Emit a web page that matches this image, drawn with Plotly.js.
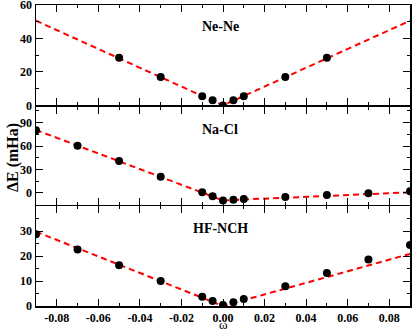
<!DOCTYPE html>
<html>
<head>
<meta charset="utf-8">
<script src="https://cdn.plot.ly/plotly-3.0.1.min.js"></script>
<style>
  html, body { margin: 0; padding: 0; background: #fff; }
  #chart { width: 415px; height: 333px; }
</style>
</head>
<body>
<div id="chart"></div>
<script>
// ── datos ─────────────────────────────────────────────────────────────────
const omegaNe  = [-0.05, -0.03, -0.01, -0.005, 0.0, 0.005, 0.01, 0.03, 0.05];
const dENe     = [28.4, 16.9, 5.5, 3.0, 0.0, 3.0, 5.5, 17.0, 28.4];

const omega    = [-0.09, -0.07, -0.05, -0.03, -0.01, -0.005, 0.0, 0.005, 0.01, 0.03, 0.05, 0.07, 0.09];
const dENaCl   = [80.1, 60.4, 40.7, 20.6, 0.8, -4.1, -9.5, -8.6, -7.8, -5.3, -2.5, -0.4, 2.1];
const dEHF     = [28.8, 22.6, 16.3, 10.0, 3.7, 2.0, 0.4, 1.5, 2.8, 7.9, 13.2, 18.6, 24.5];

// rectas de ajuste (rama izquierda / derecha)
const fitX     = [-0.09, 0.0, 0.09];
const fitNe    = [50.6, 0.0, 50.6];
const fitNaCl  = [80.5, -9.5, 0.8];
const fitHF    = [29.8, 0.0, 20.9];

const xTicks   = [-0.08, -0.06, -0.04, -0.02, 0.0, 0.02, 0.04, 0.06, 0.08];
const xLabels  = ['-0.08', '-0.06', '-0.04', '-0.02', '0.00', '0.02', '0.04', '0.06', '0.08'];

const panelNames = ['Ne-Ne', 'Na-Cl', 'HF-NCH'];

// ── estilo ────────────────────────────────────────────────────────────────
const FONT = 'Liberation Serif, Times New Roman, serif';
const lineStyle   = { color: '#ff0000', width: 2, dash: '6px,4px' };
const markerStyle = { color: '#000000', size: 8 };

const pts = (x, y, ax) => ({
    type: 'scatter', mode: 'markers', x, y,
    xaxis: ax.x, yaxis: ax.y,
    marker: markerStyle, hoverinfo: 'x+y',
});
const fit = (x, y, ax) => ({
    type: 'scatter', mode: 'lines', x, y,
    xaxis: ax.x, yaxis: ax.y,
    line: lineStyle, hoverinfo: 'skip',
});

const A1 = { x: 'x3', y: 'y3' };   // arriba
const A2 = { x: 'x2', y: 'y2' };   // medio
const A3 = { x: 'x',  y: 'y'  };   // abajo

const traces = [
    fit(fitX, fitNe, A1),   pts(omegaNe, dENe, A1),
    fit(fitX, fitNaCl, A2), pts(omega, dENaCl, A2),
    fit(fitX, fitHF, A3),   pts(omega, dEHF, A3),
];

const tickFont = { family: FONT, size: 12, color: '#000', weight: 'bold' };

const xBase = (anchor, labels) => ({
    anchor, range: [-0.09, 0.09],
    tickmode: 'array', tickvals: xTicks, ticktext: xLabels,
    showticklabels: labels,
    ticks: 'inside', ticklen: 7, tickwidth: 1, tickcolor: '#000',
    minor: { dtick: 0.01, tick0: 0, ticks: 'inside', ticklen: 3, tickwidth: 1, tickcolor: '#000' },
    showline: true, linecolor: '#000', linewidth: 1.5, mirror: 'ticks',
    showgrid: false, zeroline: false,
    tickfont: tickFont, fixedrange: true,
});

const yBase = (anchor, domain, range, minor, tickvals) => ({
    anchor, domain, range,
    tickmode: 'array', tickvals,
    ticks: 'inside', ticklen: 7, tickwidth: 1, tickcolor: '#000',
    minor: { dtick: minor, tick0: 0, ticks: 'inside', ticklen: 3, tickwidth: 1, tickcolor: '#000' },
    showline: true, linecolor: '#000', linewidth: 1.5, mirror: 'ticks',
    showgrid: false, zeroline: false,
    ticklabeloverflow: 'allow',
    tickfont: tickFont, fixedrange: true,
});

const labelAnn = (text, y) => ({
    xref: 'paper', yref: 'paper', x: 0.493, y, text,
    showarrow: false, xanchor: 'center', yanchor: 'middle',
    font: { family: FONT, size: 14, color: '#000', weight: 'bold' },
});

const layout = {
    width: 415, height: 333,
    margin: { t: 5, r: 5, b: 27, l: 36 },
    paper_bgcolor: '#fff', plot_bgcolor: '#fff',
    showlegend: false,
    xaxis:  xBase('y', true),
    xaxis2: xBase('y2', false),
    xaxis3: xBase('y3', false),
    // huecos de 1.5px entre paneles para que los bordes coincidan
    yaxis:  yBase('x',  [0, 0.3315],      [0, 40],    5,  [0, 10, 20, 30]),
    yaxis2: yBase('x2', [0.3365, 0.6615], [-15, 110], 15, [0, 30, 60, 90]),
    yaxis3: yBase('x3', [0.6665, 1],      [0, 60],    10, [0, 20, 40, 60]),
    annotations: [
        labelAnn(panelNames[0], 0.927),
        labelAnn(panelNames[1], 0.585),
        labelAnn(panelNames[2], 0.258),
        {
            xref: 'paper', yref: 'paper', x: -0.063, y: 0.493, text: 'ΔE (mHa)',
            textangle: -90, showarrow: false, xanchor: 'center', yanchor: 'middle',
            font: { family: FONT, size: 16, color: '#000', weight: 'bold' },
        },
        {
            xref: 'paper', yref: 'paper', x: 0.5, y: -0.06, text: 'ω',
            showarrow: false, xanchor: 'center', yanchor: 'middle',
            font: { family: FONT, size: 13, color: '#000' },
        },
    ],
};

Plotly.newPlot('chart', traces, layout, { staticPlot: true, displayModeBar: false });
</script>
</body>
</html>
